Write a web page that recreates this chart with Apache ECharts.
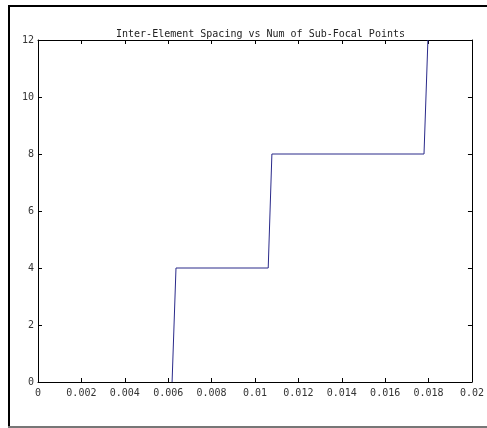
<!DOCTYPE html>
<html>
<head>
<meta charset="utf-8">
<script src="https://cdn.jsdelivr.net/npm/echarts@6/dist/echarts.min.js"></script>
<style>
html,body{margin:0;padding:0;background:#fff;}
#c{width:487px;height:428px;}
</style>
</head>
<body>
<div id="c"></div>
<script>
var titleText = 'Inter-Element Spacing vs Num of Sub-Focal Points';
var spacing = [0.00618, 0.00636, 0.01061, 0.01078, 0.01779, 0.01797];
var numPoints = [0, 4, 4, 8, 8, 12];
var xMin = 0, xMax = 0.02, xStep = 0.002;
var yMin = 0, yMax = 12, yStep = 2;

var chart = echarts.init(document.getElementById('c'), null, {renderer: 'canvas'});
var labelStyle = {color: '#333', fontFamily: 'DejaVu Sans Mono', fontSize: 10};
function axisLine() { return {show: true, onZero: false, lineStyle: {color: '#000', width: 1}}; }
var tick = {show: true, inside: true, length: 4, lineStyle: {color: '#000', width: 1}};
var data = spacing.map(function (x, i) { return [x, numPoints[i]]; });

chart.setOption({
  animation: false,
  backgroundColor: '#fff',
  title: {
    text: titleText,
    left: 255.5,
    textAlign: 'center',
    top: 24,
    textStyle: {fontFamily: 'DejaVu Sans Mono', fontSize: 10, fontWeight: 'normal', color: '#222'}
  },
  grid: {left: 38, right: 14, top: 40, bottom: 46, containLabel: false},
  xAxis: [
    {type: 'value', min: xMin, max: xMax, interval: xStep, position: 'bottom',
     axisLine: axisLine(), axisTick: tick, splitLine: {show: false},
     axisLabel: Object.assign({margin: 6, showMinLabel: true, showMaxLabel: true}, labelStyle)},
    {type: 'value', min: xMin, max: xMax, interval: xStep, position: 'top',
     axisLine: axisLine(), axisTick: tick, splitLine: {show: false}, axisLabel: {show: false}}
  ],
  yAxis: [
    {type: 'value', min: yMin, max: yMax, interval: yStep, position: 'left',
     axisLine: axisLine(), axisTick: tick, splitLine: {show: false},
     axisLabel: Object.assign({margin: 4}, labelStyle)},
    {type: 'value', min: yMin, max: yMax, interval: yStep, position: 'right',
     axisLine: axisLine(), axisTick: tick, splitLine: {show: false}, axisLabel: {show: false}}
  ],
  series: [{
    type: 'line',
    data: data,
    showSymbol: false,
    symbol: 'none',
    lineStyle: {color: '#2a2a8a', width: 1},
    itemStyle: {color: '#2a2a8a'}
  }],
  graphic: [
    {type: 'line', shape: {x1: 9, y1: 5, x2: 9, y2: 428}, style: {stroke: '#000', lineWidth: 2}},
    {type: 'line', shape: {x1: 8, y1: 6, x2: 487, y2: 6}, style: {stroke: '#000', lineWidth: 2}},
    {type: 'line', shape: {x1: 8, y1: 427, x2: 487, y2: 427}, style: {stroke: '#777', lineWidth: 2}}
  ]
});
</script>
</body>
</html>
